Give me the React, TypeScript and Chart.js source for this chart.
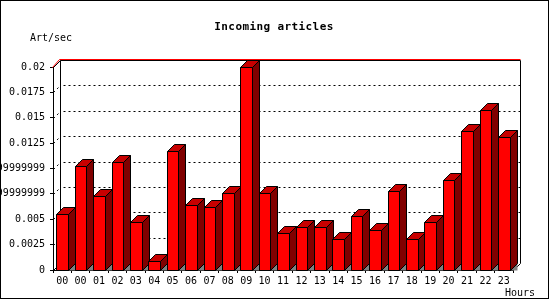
import React, { useEffect, useRef } from "react";
import { Chart, registerables } from "chart.js";

Chart.register(...registerables);

const hourLabels = [
  "00", "00", "01", "02", "03", "04", "05", "06", "07", "08", "09", "10", "11",
  "12", "13", "14", "15", "16", "17", "18", "19", "20", "21", "22", "23",
];
const artPerSec = [
  0.0055, 0.0102, 0.0073, 0.0106, 0.0047, 0.0009, 0.0117, 0.0064, 0.0062,
  0.0076, 0.02, 0.0076, 0.0036, 0.0042, 0.0042, 0.0031, 0.0053, 0.0039,
  0.0078, 0.0031, 0.0047, 0.0089, 0.0137, 0.0158, 0.0131,
];
const yTickValues = [0, 0.0025, 0.005, 0.0075, 0.01, 0.0125, 0.015, 0.0175, 0.02];
const yTickLabels = [
  "0", "0.0025", "0.005", "0.0074999999999", "0.0099999999999", "0.0125",
  "0.015", "0.0175", "0.02",
];
const chartTitle = "Incoming articles";
const yAxisTitle = "Art/sec";
const xAxisTitle = "Hours";

const DEPTH = 7;
const MONO = '"DejaVu Sans Mono", monospace';

const threeDPlugin = {
  id: "threeD",
  beforeDatasetsDraw(chart: any) {
    const { ctx, chartArea: a, scales } = chart;
    const y = scales.y;
    const D = DEPTH;
    ctx.save();
    ctx.lineWidth = 1;
    ctx.strokeStyle = "#000";
    ctx.setLineDash([2, 3]);
    yTickValues.forEach((v, i) => {
      if (i === 0 || i === yTickValues.length - 1) return;
      const py = Math.round(y.getPixelForValue(v)) + 0.5;
      ctx.beginPath();
      ctx.moveTo(a.left + D + 3.5, py - D);
      ctx.lineTo(a.right + D, py - D);
      ctx.stroke();
      ctx.beginPath();
      ctx.moveTo(a.left + 0.5, py);
      ctx.lineTo(a.left + D + 0.5, py - D);
      ctx.stroke();
    });
    ctx.setLineDash([]);
    const L = Math.round(a.left) + 0.5;
    const R = Math.round(a.right) + 0.5;
    const T = Math.round(a.top) + 0.5;
    const B = Math.round(a.bottom) + 0.5;
    ctx.beginPath();
    ctx.moveTo(L + D, B - D);
    ctx.lineTo(L + D, T - D);
    ctx.lineTo(R + D, T - D);
    ctx.lineTo(R + D, B - D);
    ctx.stroke();
    ctx.beginPath();
    ctx.moveTo(L, B);
    ctx.lineTo(L + D, B - D);
    ctx.moveTo(R, B);
    ctx.lineTo(R + D, B - D);
    ctx.moveTo(L, T);
    ctx.lineTo(L + D, T - D);
    ctx.stroke();
    ctx.strokeStyle = "#ff0000";
    ctx.beginPath();
    ctx.moveTo(L - 1, T);
    ctx.lineTo(L + D - 1, T - D - 1);
    ctx.lineTo(R + D, T - D - 1);
    ctx.stroke();
    ctx.restore();
  },
  beforeDatasetDraw() {
    return false;
  },
  afterDatasetsDraw(chart: any) {
    const { ctx } = chart;
    const D = DEPTH;
    chart.data.datasets.forEach((ds: any, di: number) => {
      const meta = chart.getDatasetMeta(di);
      meta.data.forEach((el: any) => {
        const p = el.getProps(["x", "y", "base", "width"], true);
        const X0 = Math.round(p.x - p.width / 2) + 0.5;
        const X1 = Math.round(p.x + p.width / 2) + 0.5;
        const Y0 = Math.round(p.y) + 0.5;
        const Yb = Math.round(p.base) + 0.5;
        ctx.save();
        ctx.lineWidth = 1;
        ctx.strokeStyle = "#000";
        ctx.fillStyle = ds.shadowColor;
        ctx.beginPath();
        ctx.moveTo(X1, Yb);
        ctx.lineTo(X1 + D, Yb - D);
        ctx.lineTo(X1 + D, Yb);
        ctx.closePath();
        ctx.fill();
        ctx.fillStyle = ds.backgroundColor;
        ctx.beginPath();
        ctx.rect(X0, Y0, X1 - X0, Yb - Y0);
        ctx.fill();
        ctx.stroke();
        ctx.fillStyle = ds.topColor;
        ctx.beginPath();
        ctx.moveTo(X0, Y0);
        ctx.lineTo(X0 + D, Y0 - D);
        ctx.lineTo(X1 + D, Y0 - D);
        ctx.lineTo(X1, Y0);
        ctx.closePath();
        ctx.fill();
        ctx.stroke();
        ctx.fillStyle = ds.sideColor;
        ctx.beginPath();
        ctx.moveTo(X1, Y0);
        ctx.lineTo(X1 + D, Y0 - D);
        ctx.lineTo(X1 + D, Yb - D);
        ctx.lineTo(X1, Yb);
        ctx.closePath();
        ctx.fill();
        ctx.stroke();
        ctx.restore();
      });
    });
  },
  afterDraw(chart: any) {
    const { ctx } = chart;
    ctx.save();
    ctx.fillStyle = "#000";
    ctx.textBaseline = "alphabetic";
    ctx.font = `bold 11px ${MONO}`;
    try { (ctx as any).letterSpacing = "0.4px"; } catch (e) {}
    ctx.textAlign = "center";
    ctx.fillText(chartTitle, 274, 30);
    try { (ctx as any).letterSpacing = "0px"; } catch (e) {}
    ctx.font = `10px ${MONO}`;
    ctx.textAlign = "left";
    ctx.fillText(yAxisTitle, 30, 41);
    ctx.textAlign = "right";
    ctx.fillText(xAxisTitle, 535, 296);
    ctx.strokeStyle = "#000";
    ctx.lineWidth = 1;
    ctx.strokeRect(0.5, 0.5, 548, 298);
    ctx.restore();
  },
};

export default function App() {
  const ref = useRef<HTMLCanvasElement | null>(null);
  useEffect(() => {
    if (!ref.current) return;
    const chart = new Chart(ref.current, {
      type: "bar",
      data: {
        labels: hourLabels,
        datasets: [
          {
            label: "Art/sec",
            data: artPerSec,
            backgroundColor: "#ff0000",
            borderColor: "#000000",
            borderWidth: 1,
            categoryPercentage: 1,
            barPercentage: 0.62,
            topColor: "#c80000",
            sideColor: "#800000",
            shadowColor: "#808080",
          } as any,
        ],
      },
      options: {
        responsive: false,
        animation: false,
        layout: { padding: { left: 0, right: 37, top: 67, bottom: 0 } },
        plugins: {
          legend: { display: false },
          title: { display: false },
          tooltip: { enabled: false },
        },
        scales: {
          x: {
            afterFit: (s: any) => {
              s.height = 30;
            },
            grid: {
              display: true,
              drawOnChartArea: false,
              drawTicks: true,
              tickLength: 3,
              color: "#000",
              offset: true,
            },
            border: { display: true, color: "#000", width: 1 },
            ticks: {
              color: "#000",
              font: { family: MONO, size: 10 },
              padding: 2,
              autoSkip: false,
              maxRotation: 0,
              minRotation: 0,
            },
          },
          y: {
            min: 0,
            max: 0.02,
            afterFit: (s: any) => {
              s.width = 53;
            },
            grid: {
              display: true,
              drawOnChartArea: false,
              drawTicks: true,
              tickLength: 3,
              color: "#000",
            },
            border: { display: true, color: "#000", width: 1 },
            ticks: {
              stepSize: 0.0025,
              color: "#000",
              font: { family: MONO, size: 10 },
              padding: 5,
              callback: (value: any) => {
                const idx = yTickValues.findIndex((v) => Math.abs(v - Number(value)) < 1e-9);
                return idx >= 0 ? yTickLabels[idx] : "";
              },
            },
          },
        },
      },
      plugins: [threeDPlugin],
    });
    return () => chart.destroy();
  }, []);
  return (
    <div style={{ position: "absolute", left: 0, top: 0, width: 550, height: 300, background: "#fff" }}>
      <canvas ref={ref} width={550} height={300} />
    </div>
  );
}
